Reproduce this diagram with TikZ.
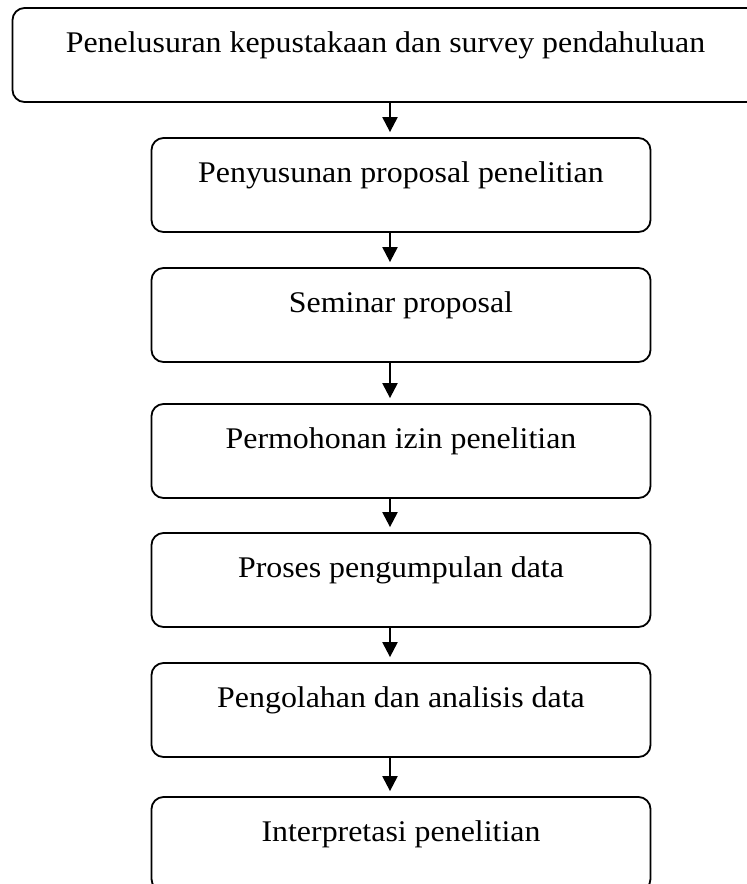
\documentclass[tikz,border=0pt]{standalone}
\usepackage{fontspec}
\setmainfont[FakeStretch=1.063]{Liberation Serif}
\usetikzlibrary{arrows.meta}

\begin{document}
\begin{tikzpicture}[x=1pt,y=-1pt]
\fontsize{30}{36}\selectfont
\tikzset{
  StepBox/.style = { draw, line width=1.8pt, rounded corners=12pt,
                     minimum width=499pt, inner xsep=0pt, inner ysep=0pt,
                     text height=44pt, text depth=50pt},
  StepArrow/.style = {-{Triangle[length=15pt,width=15pt]}, line width=2.2pt,
                      shorten >=5pt},
}
\useasboundingbox (0,0) rectangle (747,884);

  \coordinate (spine) at (390,0);

  % langkah-langkah
  \node[StepBox, minimum width=746pt] (survey) at (385.5,55)
    {Penelusuran kepustakaan dan survey pendahuluan};
  \node[StepBox] (proposal)  at (401,185) {Penyusunan proposal penelitian};
  \node[StepBox] (seminar)   at (401,315) {Seminar proposal};
  \node[StepBox] (permit)    at (401,451) {Permohonan izin penelitian};
  \node[StepBox] (collect)   at (401,580) {Proses pengumpulan data};
  \node[StepBox] (analysis)  at (401,710) {Pengolahan dan analisis data};
  \node[StepBox] (interpret) at (401,844) {Interpretasi penelitian};

  % panah
  \draw[StepArrow] (survey.south -| spine)   -- (proposal.north -| spine);
  \draw[StepArrow] (proposal.south -| spine) -- (seminar.north -| spine);
  \draw[StepArrow] (seminar.south -| spine)  -- (permit.north -| spine);
  \draw[StepArrow] (permit.south -| spine)   -- (collect.north -| spine);
  \draw[StepArrow] (collect.south -| spine)  -- (analysis.north -| spine);
  \draw[StepArrow] (analysis.south -| spine) -- (interpret.north -| spine);

\end{tikzpicture}
\end{document}
